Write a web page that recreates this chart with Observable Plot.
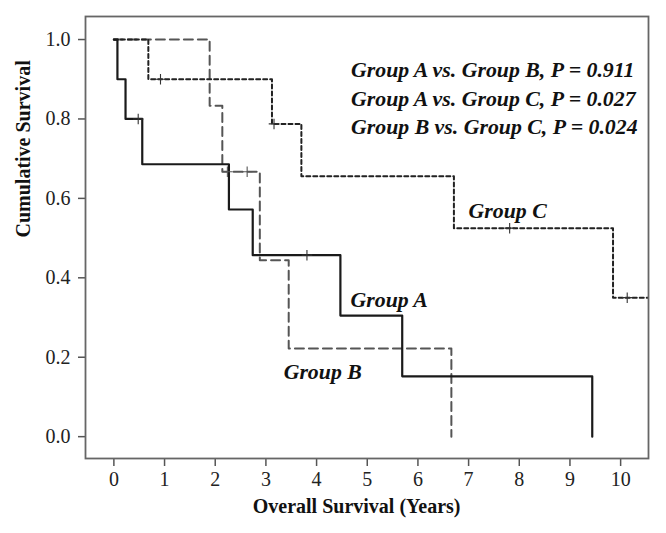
<!DOCTYPE html>
<html>
<head>
<meta charset="utf-8">
<script src="https://cdn.jsdelivr.net/npm/d3@7"></script>
<script src="https://cdn.jsdelivr.net/npm/@observablehq/plot@0.6"></script>
<style>
  html, body { margin: 0; padding: 0; background: #fff; }
</style>
</head>
<body>
<div id="chart"></div>
<script>
// Kaplan–Meier steps (time in years, cumulative survival)
const groupATime = [0, 0.07, 0.23, 0.56, 2.27, 2.74, 4.47, 5.69, 9.44];
const groupASurv = [1.0, 0.9, 0.8, 0.686, 0.572, 0.457, 0.305, 0.152, 0.0];
const groupBTime = [0, 1.89, 2.14, 2.88, 3.45, 6.66];
const groupBSurv = [1.0, 0.833, 0.667, 0.444, 0.222, 0.0];
const groupCTime = [0, 0.68, 3.12, 3.70, 6.71, 9.85, 10.6];
const groupCSurv = [1.0, 0.9, 0.7875, 0.656, 0.525, 0.35, 0.35];

// Censored observations
const censorATime = [0.48, 3.81];
const censorASurv = [0.8, 0.457];
const censorBTime = [2.24, 2.63];
const censorBSurv = [0.667, 0.667];
const censorCTime = [0.92, 3.16, 7.81, 10.13];
const censorCSurv = [0.9, 0.7875, 0.525, 0.35];

const xTicks = [0, 1, 2, 3, 4, 5, 6, 7, 8, 9, 10];
const yTicks = [0.0, 0.2, 0.4, 0.6, 0.8, 1.0];

const pLines = [
  "Group A vs. Group B, P = 0.911",
  "Group A vs. Group C, P = 0.027",
  "Group B vs. Group C, P = 0.024"
];
const groupNames = ["Group A", "Group B", "Group C"];

// annotation anchors (data coordinates)
const pAnchorX = 4.68;
const pAnchorY = [0.922, 0.851, 0.779];
const nameX = [4.67, 3.35, 7.0];
const nameY = [0.343, 0.162, 0.569];

const zip = (t, s) => t.map((d, i) => ({t: d, s: s[i]}));
const A = zip(groupATime, groupASurv);
const B = zip(groupBTime, groupBSurv);
const C = zip(groupCTime, groupCSurv);
const cA = zip(censorATime, censorASurv);
const cB = zip(censorBTime, censorBSurv);
const cC = zip(censorCTime, censorCSurv);
const pData = pLines.map((txt, i) => ({txt, x: pAnchorX, y: pAnchorY[i]}));
const nameData = groupNames.map((txt, i) => ({txt, x: nameX[i], y: nameY[i]}));

const serif = "'Liberation Serif', 'Times New Roman', serif";

const chart = Plot.plot({
  width: 666,
  height: 533,
  marginLeft: 85,
  marginRight: 18,
  marginTop: 16,
  marginBottom: 75,
  x: {domain: [-0.56, 10.55]},
  y: {domain: [-0.055, 1.058]},
  style: {fontFamily: serif, fontSize: "20px", color: "#222", background: "#fff"},
  marks: [
    Plot.axisX({ticks: xTicks, tickSize: 8, tickPadding: 5, label: null, stroke: "#555", strokeWidth: 1.5, fill: "#222", fontSize: 20}),
    Plot.axisY({ticks: yTicks, tickFormat: d => d.toFixed(1), tickSize: 7, tickPadding: 8, label: null, stroke: "#555", strokeWidth: 1.5, fill: "#222", fontSize: 20}),
    Plot.line(B, {x: "t", y: "s", curve: "step-after", stroke: "#555", strokeWidth: 2, strokeDasharray: "9,5", clip: true}),
    Plot.line(C, {x: "t", y: "s", curve: "step-after", stroke: "#222", strokeWidth: 2, strokeDasharray: "4,3", clip: true}),
    Plot.line(A, {x: "t", y: "s", curve: "step-after", stroke: "#1a1a1a", strokeWidth: 2.2, clip: true}),
    Plot.dot(cA, {x: "t", y: "s", symbol: "plus", r: 3.5, stroke: "#333", strokeWidth: 1.1}),
    Plot.dot(cB, {x: "t", y: "s", symbol: "plus", r: 3.5, stroke: "#555", strokeWidth: 1.1}),
    Plot.dot(cC, {x: "t", y: "s", symbol: "plus", r: 3.5, stroke: "#333", strokeWidth: 1.1, clip: true}),
    Plot.frame({stroke: "#666", strokeWidth: 1.8}),
    Plot.text(pData, {x: "x", y: "y", text: "txt", textAnchor: "start", fontSize: 21.8, fontWeight: "bold", fontStyle: "italic", fill: "#111"}),
    Plot.text(nameData, {x: "x", y: "y", text: "txt", textAnchor: "start", fontSize: 21.8, fontWeight: "bold", fontStyle: "italic", fill: "#111"}),
    Plot.text(["Overall Survival (Years)"], {x: 4.79, frameAnchor: "bottom", dy: 54, text: d => d, fontSize: 20, fontWeight: "bold", fill: "#111"}),
    Plot.text(["Cumulative Survival"], {frameAnchor: "left", dx: -62, rotate: -90, text: d => d, fontSize: 20, fontWeight: "bold", fill: "#111"})
  ]
});
document.getElementById("chart").appendChild(chart);
</script>
</body>
</html>
